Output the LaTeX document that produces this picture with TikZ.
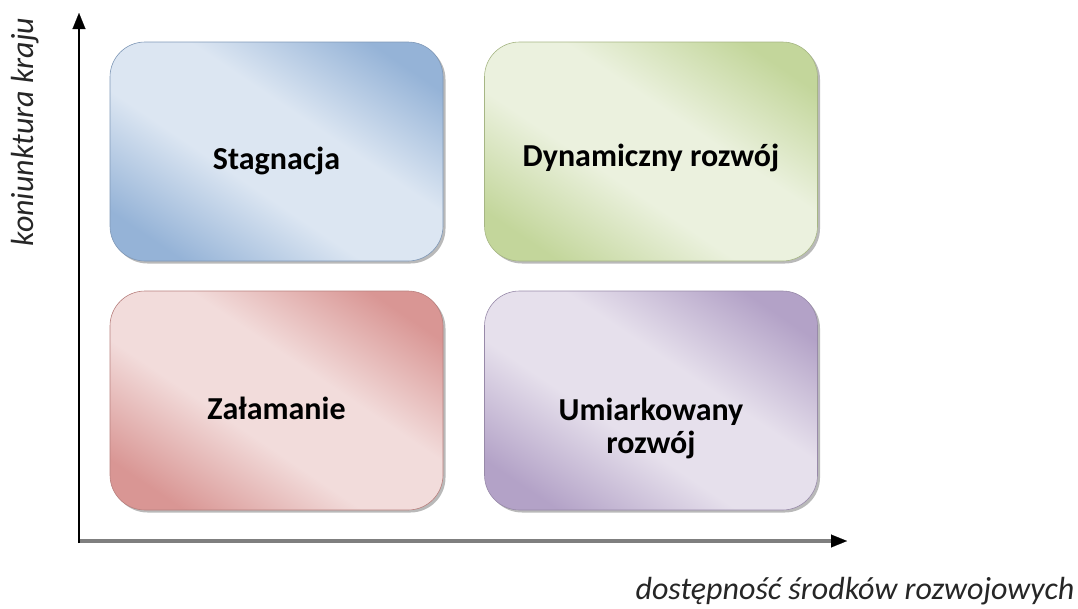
\documentclass[tikz,border=0pt]{standalone}
\usepackage{fontspec}
\setmainfont{Carlito}
\usetikzlibrary{shadows,arrows.meta}
\definecolor{bluedark}{HTML}{95B3D7}
\definecolor{bluelight}{HTML}{DCE6F2}
\definecolor{greendark}{HTML}{C3D69B}
\definecolor{greenlight}{HTML}{EBF1DE}
\definecolor{reddark}{HTML}{D99694}
\definecolor{redlight}{HTML}{F2DCDB}
\definecolor{purpledark}{HTML}{B3A2C7}
\definecolor{purplelight}{HTML}{E6E0EC}
\definecolor{axisgray}{HTML}{7F7F7F}
\pgfdeclareverticalshading{blueshade}{100bp}{color(0bp)=(bluedark); color(23bp)=(bluedark); color(42bp)=(bluelight); color(58bp)=(bluelight); color(77bp)=(bluedark); color(100bp)=(bluedark)}
\pgfdeclareverticalshading{greenshade}{100bp}{color(0bp)=(greendark); color(23bp)=(greendark); color(42bp)=(greenlight); color(58bp)=(greenlight); color(77bp)=(greendark); color(100bp)=(greendark)}
\pgfdeclareverticalshading{redshade}{100bp}{color(0bp)=(reddark); color(23bp)=(reddark); color(42bp)=(redlight); color(58bp)=(redlight); color(77bp)=(reddark); color(100bp)=(reddark)}
\pgfdeclareverticalshading{purpleshade}{100bp}{color(0bp)=(purpledark); color(23bp)=(purpledark); color(42bp)=(purplelight); color(58bp)=(purplelight); color(77bp)=(purpledark); color(100bp)=(purpledark)}
\begin{document}
\begin{tikzpicture}[x=1pt,y=1pt,
  quad/.style n args={2}{rounded corners=35pt, minimum width=333pt, minimum height=219pt,
    inner sep=0pt, draw=#1!85!black, line width=0.6pt,
    shading=#2, shading angle=-34,
    drop shadow={shadow xshift=2.5pt, shadow yshift=-2.5pt, fill=black!50, opacity=.55}},
  lbl/.style={font=\fontsize{32}{33}\selectfont\bfseries, align=center, inner sep=0pt, text=black},
  axlbl/.style={font=\fontsize{32}{33}\selectfont\itshape, inner sep=0pt, text=black!85},
  tip/.style={-{Triangle[length=16pt,width=13pt,line width=0.1pt,color=black]}}
]
\useasboundingbox (0,0) rectangle (1078,-608);
% boxes
\node[quad={bluedark}{blueshade}] (s) at (276.5,-151.5) {};
\node[quad={greendark}{greenshade}] (d) at (651,-151.5) {};
\node[quad={reddark}{redshade}] (z) at (276.5,-400.5) {};
\node[quad={purpledark}{purpleshade}] (u) at (651,-400.5) {};
% labels
\node[lbl] (st) at ([yshift=-9pt]s.center) {Stagnacja};
\node[lbl] (dt) at ([yshift=-6pt]d.center) {Dynamiczny rozwój};
\node[lbl] (zt) at ([yshift=-8pt]z.center) {Załamanie};
\node[lbl] (ut) at ([yshift=-28pt]u.center) {Umiarkowany\\rozwój};
% axes
\coordinate (o) at (79,-541);
\coordinate (ytop) at (79,-13);
\coordinate (xs) at (78,-541);
\coordinate (xend) at (847,-541);
\draw[tip, line width=3.5pt, axisgray] (xs) -- (xend);
\draw[tip, line width=2pt, black] ([yshift=-2pt]o) -- (ytop);
\node[axlbl, rotate=90] (yl) at (25,-132) {koniunktura kraju};
\node[axlbl] (xl) at (855,-591) {dostępność środków rozwojowych};
\end{tikzpicture}
\end{document}
